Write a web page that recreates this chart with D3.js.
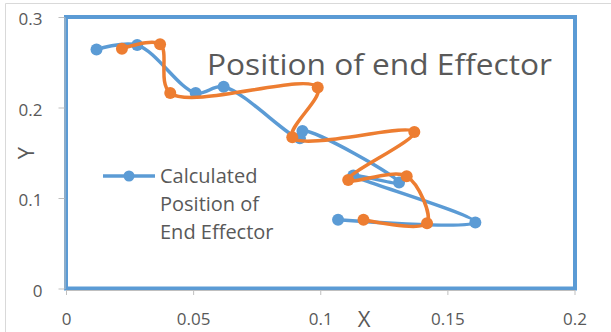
<!DOCTYPE html>
<html>
<head>
<meta charset="utf-8">
<script src="https://cdn.jsdelivr.net/npm/d3@7/dist/d3.min.js"></script>
<style>
  html, body { margin: 0; padding: 0; background: #ffffff; }
  svg { display: block; }
</style>
</head>
<body>
<svg id="chart" width="611" height="332"></svg>
<script>
// Calculated end-effector path
const calcX = [0.012, 0.028, 0.051, 0.062, 0.092, 0.093, 0.131, 0.113, 0.161, 0.107];
const calcY = [0.264, 0.269, 0.216, 0.223, 0.166, 0.174, 0.117, 0.125, 0.073, 0.076];
// Measured end-effector path
const measX = [0.022, 0.037, 0.041, 0.099, 0.089, 0.137, 0.111, 0.134, 0.142, 0.117];
const measY = [0.265, 0.270, 0.216, 0.222, 0.167, 0.173, 0.120, 0.124, 0.072, 0.076];

const xTicks = [0, 0.05, 0.1, 0.15, 0.2];
const xTickLabels = ["0", "0.05", "0.1", "0.15", "0.2"];
const yTicks = [0, 0.1, 0.2, 0.3];
const yTickLabels = ["0", "0.1", "0.2", "0.3"];

const titleText = "Position of end Effector";
const legendLines = ["Calculated", "Position of", "End Effector"];

const BLUE = "#5b9bd5";
const ORANGE = "#ed7d31";
const TEXT = "#595959";
const GRID = "#bfbfbf";
const FONT = "'Open Sans', 'Liberation Sans', sans-serif";

const svg = d3.select("#chart");

// chart area border
svg.append("path")
  .attr("d", "M5.5,340 L5.5,3.5 L620,3.5")
  .attr("fill", "none")
  .attr("stroke", "#d9d9d9")
  .attr("stroke-width", 1);

const plot = { left: 66, right: 575, top: 17, bottom: 288.5 };

const x = d3.scaleLinear().domain([0, 0.2]).range([plot.left, plot.right - 0.5]);
const y = d3.scaleLinear().domain([0, 0.3]).range([plot.bottom, plot.top]);

// plot area frame
svg.append("rect")
  .attr("x", plot.left)
  .attr("y", plot.top)
  .attr("width", plot.right - plot.left)
  .attr("height", plot.bottom - plot.top)
  .attr("fill", "none")
  .attr("stroke", BLUE)
  .attr("stroke-width", 4);

// axes
const xAxis = svg.append("g")
  .attr("transform", `translate(0,${plot.bottom + 1.5})`)
  .call(d3.axisBottom(x)
    .tickValues(xTicks)
    .tickFormat((d, i) => xTickLabels[i])
    .tickSizeInner(5)
    .tickSizeOuter(0)
    .tickPadding(18));

const yAxis = svg.append("g")
  .attr("transform", `translate(${plot.left - 1.5},0)`)
  .call(d3.axisLeft(y)
    .tickValues(yTicks)
    .tickFormat((d, i) => yTickLabels[i])
    .tickSizeInner(6)
    .tickSizeOuter(0)
    .tickPadding(16));

[xAxis, yAxis].forEach(g => {
  g.select(".domain").attr("stroke", GRID).attr("stroke-width", 1);
  g.selectAll(".tick line").attr("stroke", GRID).attr("stroke-width", 1);
  g.selectAll(".tick text")
    .attr("fill", TEXT)
    .style("font-family", FONT)
    .style("font-size", "17px");
});
yAxis.selectAll(".tick text").attr("dy", "0.45em");

// axis titles
svg.append("text")
  .attr("x", 364)
  .attr("y", 327)
  .attr("text-anchor", "middle")
  .attr("fill", TEXT)
  .style("font-family", FONT)
  .style("font-size", "22px")
  .text("X");

svg.append("text")
  .attr("transform", "translate(34,153) rotate(-90)")
  .attr("text-anchor", "middle")
  .attr("fill", TEXT)
  .style("font-family", FONT)
  .style("font-size", "22px")
  .text("Y");

// title
svg.append("text")
  .attr("x", 207)
  .attr("y", 75)
  .attr("fill", TEXT)
  .attr("textLength", 345)
  .attr("lengthAdjust", "spacingAndGlyphs")
  .style("font-family", FONT)
  .style("font-size", "29px")
  .text(titleText);

// series
const line = d3.line()
  .x(d => x(d[0]))
  .y(d => y(d[1]))
  .curve(d3.curveCatmullRom.alpha(0.5));

function drawSeries(xs, ys, color) {
  const pts = xs.map((v, i) => [v, ys[i]]);
  const g = svg.append("g");
  g.append("path")
    .datum(pts)
    .attr("d", line)
    .attr("fill", "none")
    .attr("stroke", color)
    .attr("stroke-width", 3.5)
    .attr("stroke-linejoin", "round")
    .attr("stroke-linecap", "round");
  g.selectAll("circle")
    .data(pts)
    .join("circle")
    .attr("cx", d => x(d[0]))
    .attr("cy", d => y(d[1]))
    .attr("r", 6)
    .attr("fill", color);
}

drawSeries(calcX, calcY, BLUE);
drawSeries(measX, measY, ORANGE);

// legend
const legend = svg.append("g");
legend.append("line")
  .attr("x1", 103).attr("x2", 155)
  .attr("y1", 176).attr("y2", 176)
  .attr("stroke", BLUE)
  .attr("stroke-width", 3.5);
legend.append("circle")
  .attr("cx", 129).attr("cy", 176)
  .attr("r", 5.5)
  .attr("fill", BLUE);
legend.selectAll("text")
  .data(legendLines)
  .join("text")
  .attr("x", 160)
  .attr("y", (d, i) => 183 + i * 28)
  .attr("fill", TEXT)
  .style("font-family", FONT)
  .style("font-size", "20px")
  .text(d => d);
</script>
</body>
</html>
